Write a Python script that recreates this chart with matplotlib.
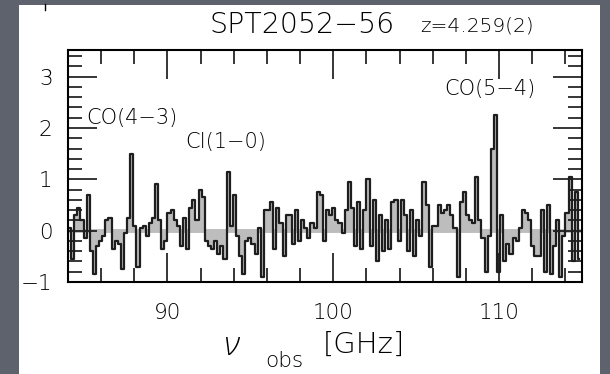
import numpy as np
import matplotlib
matplotlib.use("Agg")
import matplotlib.pyplot as plt
from matplotlib.patches import Rectangle
from matplotlib.lines import Line2D
from matplotlib.ticker import MultipleLocator

plt.rcParams['font.family'] = ['DejaVu Sans']
plt.rcParams['font.weight'] = 'light'

# spectrum: flux density per channel across the 3 mm band
nu_start = 84.0
chan_width = 0.1875
flux = [
    0.05, -0.55, 0.3, 0.45, 0.2, -0.15, 0.7, -0.4, -0.85, -0.3,
    -0.2, -0.1, 0.2, 0.25, -0.35, -0.2, -0.25, -0.75, -0.05, 0.25,
    1.5, 0.1, -0.7, 0.05, 0.1, -0.1, 0.15, 0.25, 0.9, 0.2,
    -0.35, -0.2, 0.35, 0.4, 0.2, 0.1, -0.3, 0.25, -0.35, 0.45,
    0.6, 0.2, 0.8, 0.65, -0.2, -0.3, -0.35, -0.2, -0.45, -0.3,
    -0.55, 1.15, 0.1, 0.7, -0.1, -0.5, -0.85, -0.2, -0.15, -0.25,
    -0.45, 0.05, -0.9, 0.4, 0.4, 0.55, -0.35, 0.45, 0.15, -0.5,
    0.3, 0.3, -0.25, 0.4, -0.2, 0.2, 0.05, -0.15, 0.15, 0.05,
    0.75, 0.7, -0.2, 0.4, 0.3, 0.45, 0.2, 0.15, -0.05, 0.4,
    0.95, 0.45, -0.3, 0.55, -0.35, 0.4, 1.0, -0.3, 0.6, -0.6,
    0.3, -0.4, 0.2, -0.35, 0.55, 0.6, -0.2, 0.6, 0.3, -0.4,
    0.4, -0.5, 0.2, -0.1, 0.95, 0.5, -0.7, 0.1, 0.1, 0.5,
    0.35, 0.4, 0.5, 0.3, 0.05, -0.9, 0.55, 0.75, 0.3, 0.2,
    0.15, 1.05, 0.2, -0.15, -0.8, -0.1, 1.6, 2.25, -0.8, 0.3,
    -0.6, -0.25, -0.45, -0.15, -0.2, 0.05, 0.4, 0.35, 0.2, -0.3,
    -0.5, -0.5, 0.4, -0.8, 0.5, -0.85, -0.3, 0.2, -0.9, -0.1,
    0.35, 1.05, -0.6, 0.75, -0.55,
]
freq = nu_start + chan_width * (np.arange(len(flux)) + 0.5)

lines = [("CO(4−3)", 85.1, 2.08), ("CI(1−0)", 91.1, 1.61), ("CO(5−4)", 106.7, 2.64)]

fig = plt.figure(figsize=(6.1, 3.74), dpi=100)
fig.patch.set_facecolor("#5d626c")
fig.add_artist(Rectangle((19 / 610, 0), 581 / 610, 369 / 374,
                         transform=fig.transFigure, facecolor="white",
                         edgecolor="none", zorder=0))
fig.add_artist(Line2D([45 / 610, 45 / 610], [1 - 4 / 374, 1 - 10 / 374],
                      transform=fig.transFigure, color="black", lw=1))

ax = fig.add_axes([68 / 610, 92 / 374, 514 / 610, 232 / 374])
ax.set_facecolor("white")

ax.axhline(0, color="#bdbdbd", lw=2.8, zorder=1)
ax.fill_between(freq, flux, 0, step="mid", color="#bdbdbd", lw=0, zorder=1)
ax.step(freq, flux, where="mid", color="#1e1e1e", lw=1.6, zorder=2)

ax.set_xlim(84, 115)
ax.set_ylim(-1, 3.52)
ax.xaxis.set_major_locator(MultipleLocator(10))
ax.xaxis.set_minor_locator(MultipleLocator(2))
ax.yaxis.set_major_locator(MultipleLocator(1))
ax.yaxis.set_minor_locator(MultipleLocator(0.2))
ax.tick_params(which="both", direction="in", top=True, right=True, width=1.1, color="black")
ax.tick_params(which="major", length=21, labelsize=15.5)
ax.tick_params(which="minor", length=10)
ax.tick_params(axis="x", which="major", pad=15)
ax.tick_params(axis="y", which="major", pad=11)
ax.yaxis.set_major_formatter(plt.FuncFormatter(lambda v, p: f"{v:.0f}".replace("-", "−")))
for s in ax.spines.values():
    s.set_linewidth(1.5)

for name, x, y in lines:
    ax.text(x, y, name, fontsize=15, ha="left", va="baseline")

fig.text(210 / 610, 1 - 33 / 374, "SPT2052−56", fontsize=20.5, ha="left", va="baseline")
fig.text(420 / 610, 1 - 32 / 374, "z=4.259(2)", fontsize=14.5, ha="left", va="baseline")

fig.text(223 / 610, 1 - 355 / 374, "ν", fontsize=24, family="Open Sans",
         style="italic", weight="light", ha="left", va="baseline")
fig.text(265 / 610, 1 - 367 / 374, "obs", fontsize=15.5, ha="left", va="baseline")
fig.text(323 / 610, 1 - 353 / 374, "[GHz]", fontsize=21, ha="left", va="baseline")

fig.savefig("out.png", dpi=100, facecolor=fig.get_facecolor())
